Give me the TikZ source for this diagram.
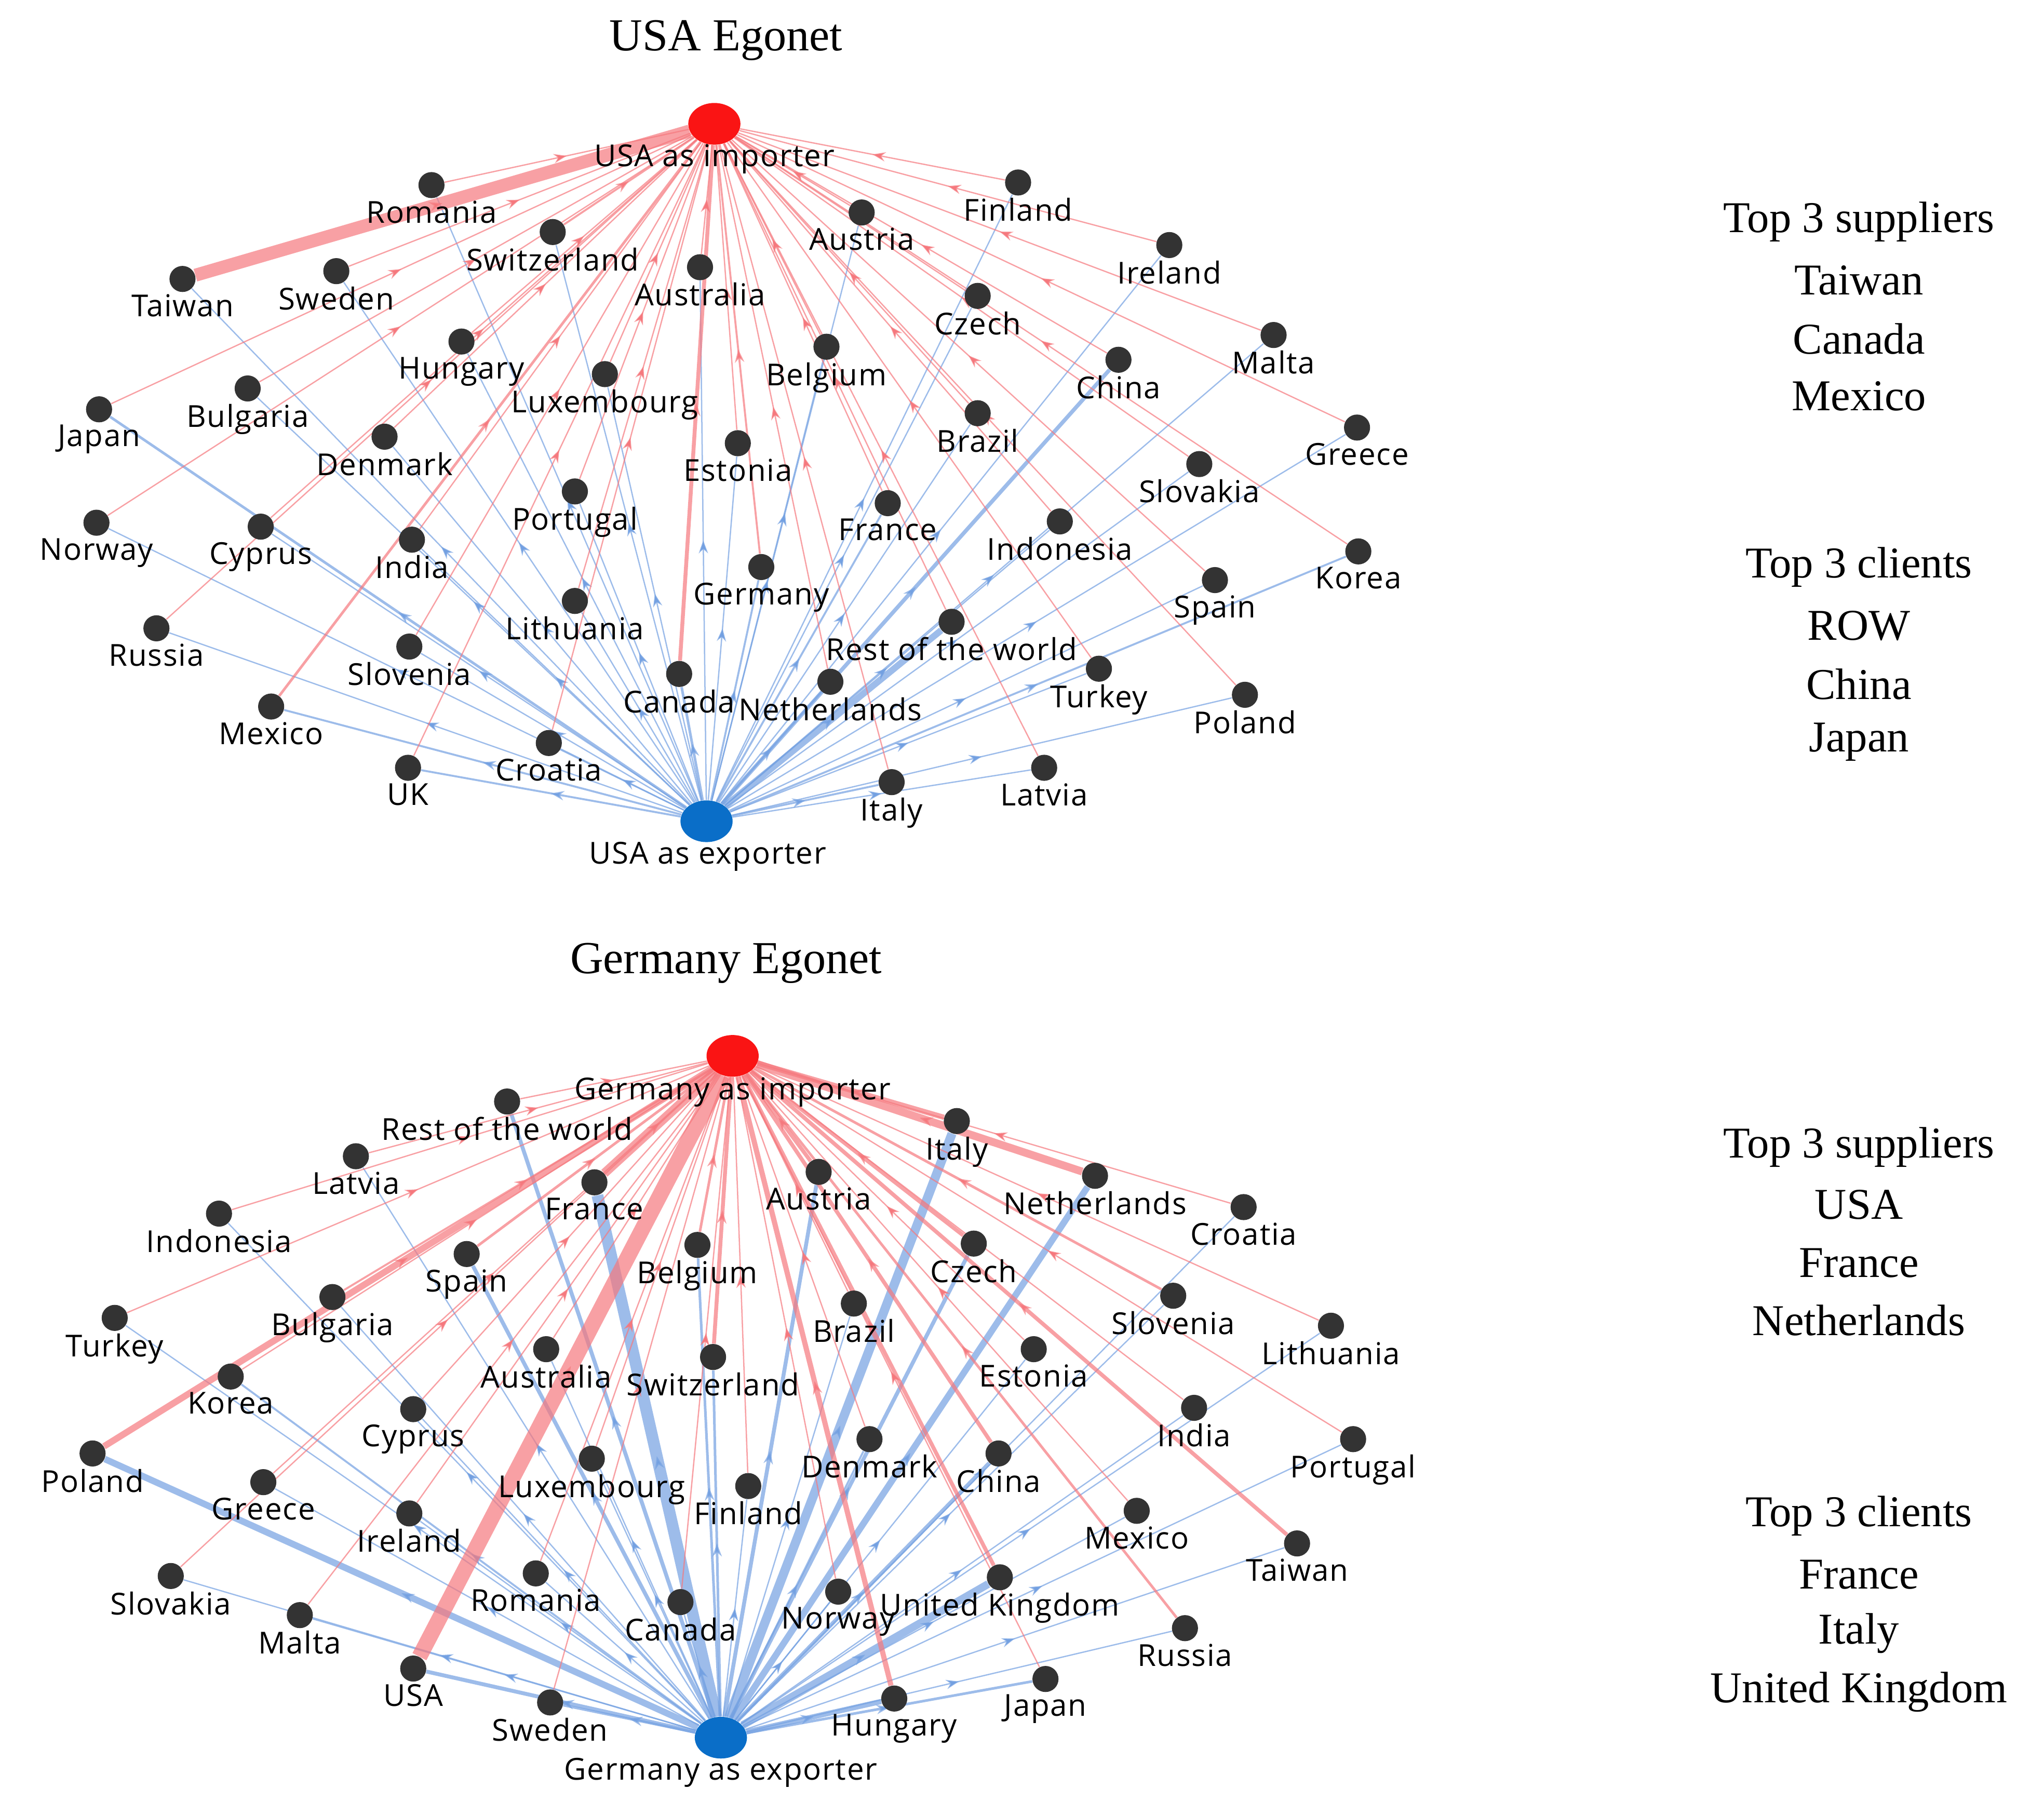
\documentclass[tikz,border=0pt]{standalone}
\usepackage{fontspec}
\setmainfont{Liberation Serif}
\newfontfamily\lab{Open Sans}[LetterSpace=3]
\usetikzlibrary{decorations.markings,arrows.meta,shapes.geometric}
\pgfdeclarelayer{bg}\pgfsetlayers{bg,main}
\definecolor{impred}{RGB}{250,20,20}
\definecolor{expblue}{RGB}{10,110,200}
\definecolor{ered}{RGB}{245,120,125}
\definecolor{eblue}{RGB}{115,160,225}
\tikzset{
 dot/.style={circle,fill=black!80,inner sep=0,minimum size=0.5cm,
   label={[font=\lab\fontsize{16.5}{18}\selectfont,inner sep=1pt]below:#1}},
 imp/.style={ellipse,fill=impred,inner sep=0,minimum width=1cm,minimum height=0.8cm},
 exp/.style={ellipse,fill=expblue,inner sep=0,minimum width=1cm,minimum height=0.8cm},
 hub/.style={font=\lab\fontsize{16.5}{18}\selectfont},
 mk/.style={postaction={decorate},decoration={markings,mark=at position 0.5 with {\arrow{Stealth[length=0.25cm,width=0.18cm]}}}},
 redge/.style={draw=ered,draw opacity=0.7,mk,color=ered},
 bedge/.style={draw=eblue,draw opacity=0.7,mk,color=eblue},
 ttl/.style={font=\fontsize{25}{28}\selectfont},
 side/.style={font=\fontsize{24}{27}\selectfont}
}
\begin{document}
\begin{tikzpicture}[x=0.025cm,y=-0.025cm]
\useasboundingbox (0,0) rectangle (1568,1393);
\node[ttl] at (557,31) {USA Egonet};
\node[ttl] at (557,739) {Germany Egonet};
\foreach \t/\y in {Top 3 suppliers/170,Taiwan/215,Canada/260,Mexico/304,Top 3 clients/435,ROW/480,China/525,Japan/569,
 Top 3 suppliers/880,USA/924,France/969,Netherlands/1013,Top 3 clients/1163,France/1208,Italy/1253,United Kingdom/1298}
 \node[side] at (1426,\y) {\t};
% USA egonet
\node[imp] (ui) at (548,95) {};
\node[exp] (ue) at (542,630) {};
\node[hub] at (548,122) {USA as importer};
\node[hub] at (543,657) {USA as exporter};
\foreach \i/\x/\y/\l/\rw/\bw in {
1/331/142/Romania/1/1, 2/140/214/Taiwan/10/1, 3/258/208/Sweden/1/1, 4/424/178/Switzerland/1.5/1,
5/537/205/Australia/1/1, 6/781/140/Finland/1/1, 7/661/163/Austria/1/1, 8/897/188/Ireland/1/1,
9/750/227/Czech/1/1, 10/977/257/Malta/1/1, 11/858/276/China/1/3, 12/1041/328/Greece/1/1,
13/76/314/Japan/1/2, 14/190/298/Bulgaria/1/1, 15/354/262/Hungary/1/1, 16/464/287/Luxembourg/1/1,
17/634/266/Belgium/1/1, 18/750/317/Brazil/1/1, 19/920/356/Slovakia/1/1, 20/295/335/Denmark/1/1,
21/566/340/Estonia/1/1, 22/74/401/Norway/1/1, 23/200/404/Cyprus/1/1, 24/316/414/India/1/1,
25/441/377/Portugal/1/1, 26/681/386/France/1/1.5, 27/813/400/Indonesia/1/1, 28/1042/423/Korea/1/1.5,
29/932/445/Spain/1/1, 30/584/435/Germany/1.5/1.5, 31/441/461/Lithuania/1/1, 32/730/477/Rest of the world/1/5,
33/120/482/Russia/1/1, 34/314/496/Slovenia/1/1, 35/521/517/Canada/3/2, 36/637/523/Netherlands/1/1.5,
37/843/513/Turkey/1/1, 38/955/533/Poland/1/1, 39/208/542/Mexico/2/1.5, 40/421/570/Croatia/1/1,
41/313/589/UK/1/1.5, 42/684/600/Italy/1/1.5, 43/801/589/Latvia/1/1}
{
 \node[dot=\l] (u\i) at (\x,\y) {};
 \begin{pgfonlayer}{bg}
 \draw[redge,line width=0.71*\rw pt] (u\i) -- (ui);
 \draw[bedge,line width=0.71*\bw pt] (ue) -- (u\i);
 \end{pgfonlayer}
}
% Germany egonet
\node[imp] (gi) at (562,810) {};
\node[exp] (ge) at (553,1333) {};
\node[hub] at (562,838) {Germany as importer};
\node[hub] at (553,1360) {Germany as exporter};
\foreach \i/\x/\y/\l/\rw/\bw in {
1/389/845/Rest of the world/1/3, 2/273/887/Latvia/1/1, 3/168/931/Indonesia/1/1, 4/456/907/France/7/9,
5/734/860/Italy/4/7, 6/840/902/Netherlands/6/5, 7/954/926/Croatia/1/1, 8/628/899/Austria/3/3,
9/535/955/Belgium/2/2, 10/747/954/Czech/3/3, 11/358/962/Spain/2/3, 12/255/995/Bulgaria/1.5/1,
13/88/1011/Turkey/1/1, 14/655/1000/Brazil/1/1, 15/900/994/Slovenia/2/1, 16/1021/1017/Lithuania/1/1,
17/419/1035/Australia/1/1, 18/547/1041/Switzerland/3/2, 19/793/1035/Estonia/1/1, 20/177/1056/Korea/1/1.5,
21/317/1081/Cyprus/1/1, 22/916/1080/India/1/1, 23/71/1115/Poland/5/5, 24/667/1104/Denmark/1/1.5,
25/1038/1104/Portugal/1/1, 26/766/1115/China/3/3, 27/454/1119/Luxembourg/1/1, 28/574/1140/Finland/1/1,
29/202/1137/Greece/1/1, 30/314/1161/Ireland/1/1, 31/872/1159/Mexico/1/1, 32/995/1184/Taiwan/3/1,
33/131/1209/Slovakia/1/1, 34/230/1239/Malta/1/1, 35/411/1207/Romania/1/1, 36/767/1210/United Kingdom/3/6,
37/643/1221/Norway/1/1, 38/522/1229/Canada/1/1, 39/909/1249/Russia/2/1, 40/317/1280/USA/12/3,
41/422/1306/Sweden/1/2, 42/686/1303/Hungary/4/4, 43/802/1288/Japan/1/2}
{
 \node[dot=\l] (g\i) at (\x,\y) {};
 \begin{pgfonlayer}{bg}
 \draw[redge,line width=0.71*\rw pt] (g\i) -- (gi);
 \draw[bedge,line width=0.71*\bw pt] (ge) -- (g\i);
 \end{pgfonlayer}
}
\end{tikzpicture}
\end{document}
